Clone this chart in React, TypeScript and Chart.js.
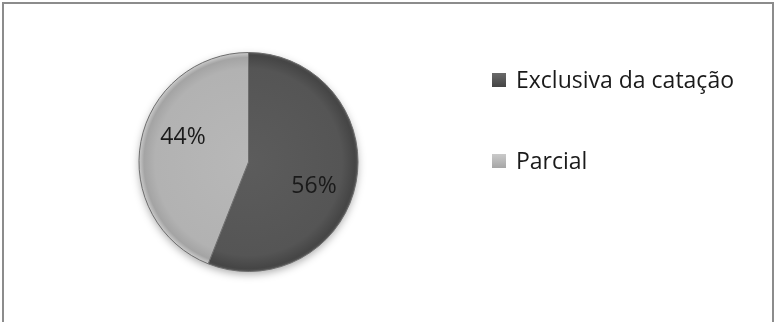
import React, { useEffect, useRef } from "react";
import { Chart, registerables } from "chart.js";

Chart.register(...registerables);

const categories: string[] = ["Exclusiva da catação", "Parcial"];
const values: number[] = [56, 44];
const percentLabels: string[] = ["56%", "44%"];

const FONT = "'Open Sans', 'Liberation Sans', sans-serif";

function sliceFill(ctx: any) {
  const chart = ctx.chart;
  const area = chart.chartArea;
  if (!area) return ctx.dataIndex === 0 ? "#555555" : "#b4b4b4";
  const cx = (area.left + area.right) / 2;
  const cy = (area.top + area.bottom) / 2;
  const r = Math.min(area.right - area.left, area.bottom - area.top) / 2;
  const g = chart.ctx.createRadialGradient(cx, cy, 0, cx, cy, r);
  if (ctx.dataIndex === 0) {
    g.addColorStop(0, "#5c5c5c");
    g.addColorStop(0.85, "#555555");
    g.addColorStop(0.97, "#454545");
    g.addColorStop(1, "#585858");
  } else {
    g.addColorStop(0, "#b8b8b8");
    g.addColorStop(0.85, "#b2b2b2");
    g.addColorStop(0.95, "#a4a4a4");
    g.addColorStop(1, "#cfcfcf");
  }
  return g;
}

const legendColors = ["#444444", "#a6a6a6"];
const legendInner = ["#6a6a6a", "#cacaca"];

const decorPlugin = {
  id: "decor",
  beforeDraw(chart: any) {
    const ctx = chart.ctx;
    ctx.save();
    ctx.fillStyle = "#ffffff";
    ctx.fillRect(0, 0, chart.width, chart.height);
    ctx.strokeStyle = "#8c8c8c";
    ctx.lineWidth = 2;
    ctx.beginPath();
    ctx.moveTo(3, chart.height);
    ctx.lineTo(3, 3);
    ctx.lineTo(chart.width - 3, 3);
    ctx.lineTo(chart.width - 3, chart.height);
    ctx.stroke();
    ctx.restore();
  },
  beforeDatasetsDraw(chart: any) {
    const ctx = chart.ctx;
    ctx.save();
    ctx.shadowColor = "rgba(0,0,0,0.35)";
    ctx.shadowBlur = 8;
    ctx.shadowOffsetY = 3;
    const a = chart.chartArea;
    const cx = (a.left + a.right) / 2;
    const cy = (a.top + a.bottom) / 2;
    const r = Math.min(a.right - a.left, a.bottom - a.top) / 2;
    ctx.fillStyle = "#666";
    ctx.beginPath();
    ctx.arc(cx, cy, r - 1, 0, Math.PI * 2);
    ctx.fill();
    ctx.restore();
  },
  afterDatasetsDraw(chart: any) {
    const ctx = chart.ctx;
    const meta = chart.getDatasetMeta(0);
    ctx.save();
    ctx.font = `23px ${FONT}`;
    ctx.fillStyle = "#1a1a1a";
    ctx.textAlign = "center";
    ctx.textBaseline = "middle";
    meta.data.forEach((arc: any, i: number) => {
      const p = arc.getProps(["x", "y", "startAngle", "endAngle", "outerRadius"], true);
      const mid = (p.startAngle + p.endAngle) / 2 + (10 * Math.PI) / 180;
      const rr = p.outerRadius * 0.64;
      ctx.fillText(percentLabels[i], p.x + Math.cos(mid) * rr, p.y + Math.sin(mid) * rr);
    });
    // legend
    const lx = 492;
    const rows = [80, 161];
    categories.forEach((c, i) => {
      const y = rows[i];
      const g = ctx.createLinearGradient(lx, y - 7, lx, y + 7);
      g.addColorStop(0, legendInner[i]);
      g.addColorStop(1, legendColors[i]);
      ctx.fillStyle = g;
      ctx.fillRect(lx, y - 7, 14, 14);
      ctx.textAlign = "left";
      ctx.fillStyle = "#1a1a1a";
      ctx.font = `23px ${FONT}`;
      ctx.fillText(c, 516, y + 1);
    });
    ctx.restore();
  },
};

export default function App() {
  const ref = useRef<HTMLCanvasElement>(null);
  useEffect(() => {
    document.body.style.margin = "0";
    if (!ref.current) return;
    const chart = new Chart(ref.current, {
      type: "pie",
      data: {
        labels: categories,
        datasets: [
          {
            data: values,
            backgroundColor: sliceFill as any,
            borderColor: "#6e6e6e",
            borderWidth: 1,
          },
        ],
      },
      options: {
        animation: false,
        responsive: false,
        layout: { padding: { left: 138, right: 417, top: 52, bottom: 50 } },
        plugins: {
          legend: { display: false },
          tooltip: { enabled: false },
        },
      },
      plugins: [decorPlugin],
    });
    return () => chart.destroy();
  }, []);
  return (
    <div style={{ position: "absolute", left: 0, top: 0, width: 776, height: 322 }}>
      <canvas ref={ref} width={776} height={322} style={{ display: "block" }} />
    </div>
  );
}
